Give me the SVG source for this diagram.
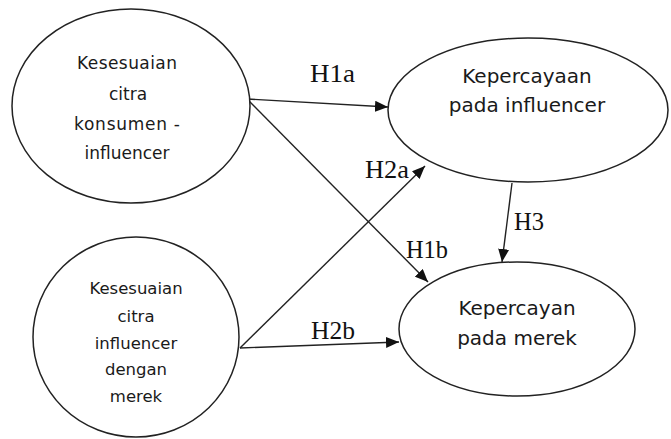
<svg xmlns="http://www.w3.org/2000/svg" width="671" height="439" viewBox="0 0 671 439">
  <style>
    .node ellipse { fill: #ffffff; stroke: #222222; stroke-width: 1.5; }
    .ntext { font-family: "DejaVu Sans", Verdana, sans-serif; fill: #1a1a1a; text-anchor: middle; }
    .lbl { font-family: "Liberation Serif", "Times New Roman", serif; font-size: 25px; fill: #111111; }
    .conn { fill: none; stroke: #222222; stroke-width: 1.4; marker-end: url(#arrow); }
  </style>
  <defs>
    <marker id="arrow" markerUnits="userSpaceOnUse" markerWidth="13" markerHeight="11" refX="13" refY="5.5" orient="auto">
      <path d="M0,0 L13,5.5 L0,11 z" fill="#111111"/>
    </marker>
  </defs>
  <rect width="671" height="439" fill="#ffffff"/>

  <g id="connectors">
    <path class="conn" d="M247,99 L388,107"/>
    <path class="conn" d="M247,99 L428,282"/>
    <path class="conn" d="M240,348 L425,166"/>
    <path class="conn" d="M240,348 L399,342"/>
    <path class="conn" d="M512,183 L502,262"/>
  </g>

  <g id="node-kesesuaian-konsumen" class="node">
    <ellipse cx="131" cy="106" rx="119" ry="97"/>
    <text class="ntext" font-size="17" x="127" y="69" textLength="100" lengthAdjust="spacing">Kesesuaian</text>
    <text class="ntext" font-size="17" x="128" y="100">citra</text>
    <text class="ntext" font-size="17" x="127" y="130" textLength="106" lengthAdjust="spacing">konsumen -</text>
    <text class="ntext" font-size="17" x="127" y="159">influencer</text>
  </g>

  <g id="node-kesesuaian-merek" class="node">
    <ellipse cx="136" cy="337" rx="103" ry="100"/>
    <text class="ntext" font-size="16.5" x="136" y="294">Kesesuaian</text>
    <text class="ntext" font-size="16.5" x="136" y="322">citra</text>
    <text class="ntext" font-size="16.5" x="136" y="349">influencer</text>
    <text class="ntext" font-size="16.5" x="136" y="375">dengan</text>
    <text class="ntext" font-size="16.5" x="136" y="402">merek</text>
  </g>

  <g id="node-kepercayaan-influencer" class="node">
    <ellipse cx="528" cy="110" rx="140" ry="72"/>
    <text class="ntext" font-size="20" x="527" y="83">Kepercayaan</text>
    <text class="ntext" font-size="20" x="527" y="112">pada influencer</text>
  </g>

  <g id="node-kepercayan-merek" class="node">
    <ellipse cx="517" cy="329" rx="118" ry="67"/>
    <text class="ntext" font-size="20" x="517" y="315">Kepercayan</text>
    <text class="ntext" font-size="20" x="517" y="345">pada merek</text>
  </g>

  <g id="labels">
    <text class="lbl" x="310" y="82" textLength="45" lengthAdjust="spacingAndGlyphs">H1a</text>
    <text class="lbl" x="365" y="178" textLength="44" lengthAdjust="spacingAndGlyphs">H2a</text>
    <text class="lbl" x="406" y="258" textLength="42" lengthAdjust="spacingAndGlyphs">H1b</text>
    <text class="lbl" x="514" y="230" textLength="30" lengthAdjust="spacingAndGlyphs">H3</text>
    <text class="lbl" x="311" y="339" textLength="44" lengthAdjust="spacingAndGlyphs">H2b</text>
  </g>
</svg>
